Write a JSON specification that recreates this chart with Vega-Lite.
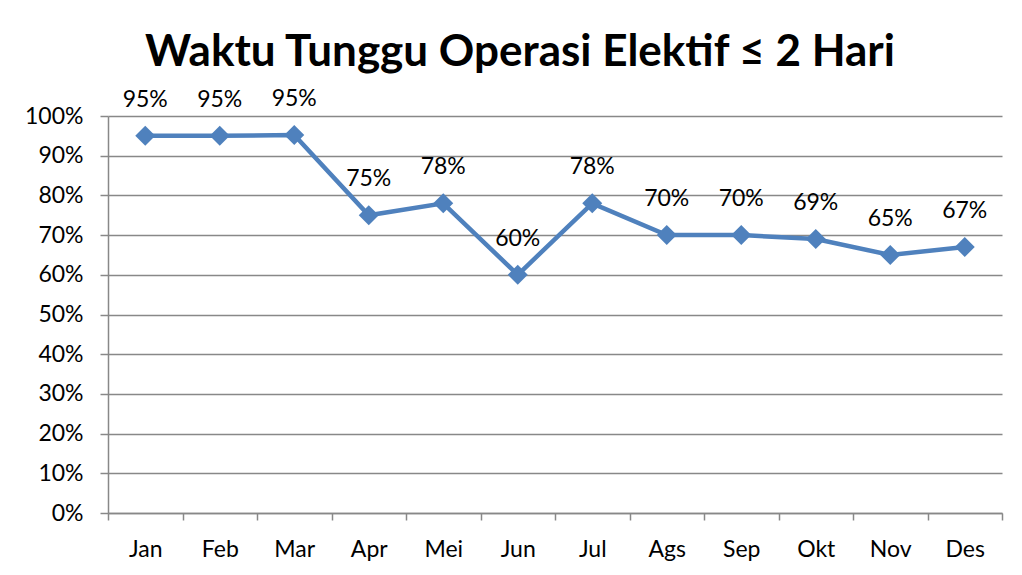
{
  "$schema": "https://vega.github.io/schema/vega-lite/v6.json",
  "autosize": "none",
  "width": 894,
  "height": 397,
  "padding": {"left": 108, "top": 116, "right": 20, "bottom": 62},
  "background": "white",
  "title": {
    "text": "Waktu Tunggu Operasi Elektif ≤ 2 Hari",
    "font": "Lato",
    "fontSize": 44,
    "fontWeight": "bold",
    "color": "black",
    "anchor": "middle",
    "baseline": "alphabetic",
    "offset": 46,
    "dx": -35,
    "dy": 68
  },
  "data": {
    "values": [
      {"bulan": "Jan", "nilai": 0.95},
      {"bulan": "Feb", "nilai": 0.95},
      {"bulan": "Mar", "nilai": 0.952},
      {"bulan": "Apr", "nilai": 0.75},
      {"bulan": "Mei", "nilai": 0.78},
      {"bulan": "Jun", "nilai": 0.60},
      {"bulan": "Jul", "nilai": 0.78},
      {"bulan": "Ags", "nilai": 0.70},
      {"bulan": "Sep", "nilai": 0.70},
      {"bulan": "Okt", "nilai": 0.69},
      {"bulan": "Nov", "nilai": 0.65},
      {"bulan": "Des", "nilai": 0.67}
    ]
  },
  "config": {
    "view": {"stroke": null},
    "font": "Lato",
    "axis": {
      "labelFont": "Lato",
      "labelFontSize": 23,
      "labelColor": "black",
      "domainColor": "#888888",
      "domainWidth": 1.5,
      "tickColor": "#888888",
      "tickWidth": 1.5,
      "gridColor": "#888888",
      "gridWidth": 1.3,
      "title": null
    }
  },
  "encoding": {
    "x": {
      "field": "bulan",
      "type": "nominal",
      "sort": null,
      "scale": {"type": "band", "paddingInner": 0, "paddingOuter": 0},
      "axis": {
        "labelAngle": 0,
        "tickBand": "extent",
        "tickSize": 7,
        "labelPadding": 18,
        "grid": false
      }
    },
    "y": {
      "field": "nilai",
      "type": "quantitative",
      "scale": {"domain": [0, 1], "nice": false},
      "axis": {
        "values": [0, 0.1, 0.2, 0.3, 0.4, 0.5, 0.6, 0.7, 0.8, 0.9, 1],
        "format": ".0%",
        "tickSize": 8,
        "labelPadding": 17,
        "grid": true
      }
    }
  },
  "layer": [
    {
      "mark": {"type": "line", "color": "#4F81BD", "strokeWidth": 4.5}
    },
    {
      "mark": {"type": "point", "shape": "diamond", "filled": true, "color": "#4F81BD", "size": 400, "opacity": 1}
    },
    {
      "mark": {"type": "text", "dy": -36, "fontSize": 23, "font": "Lato", "color": "black", "baseline": "middle"},
      "encoding": {
        "text": {"field": "nilai", "type": "quantitative", "format": ".0%"}
      }
    }
  ]
}
